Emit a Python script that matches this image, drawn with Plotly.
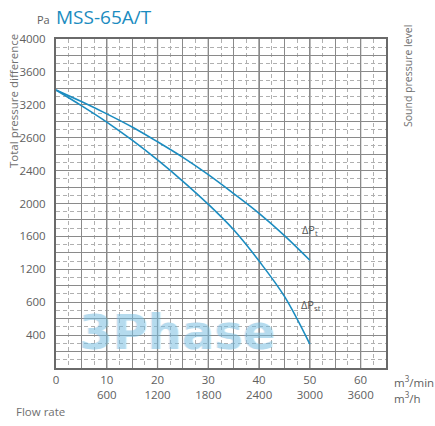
import plotly.graph_objects as go

# Fan performance curves: MSS-65A/T
flow_m3min = [0, 5, 10, 15, 20, 25, 30, 35, 40, 45, 50]
dp_total = [3380, 3240, 3090, 2930, 2750, 2560, 2350, 2120, 1880, 1610, 1310]
dp_static = [3380, 3190, 2990, 2770, 2530, 2270, 1990, 1680, 1300, 870, 290]

x_ticks = [0, 5, 10, 15, 20, 25, 30, 35, 40, 45, 50, 55, 60, 65]
x_text = ["0", "", "10<br>600", "", "20<br>1200", "", "30<br>1800", "",
          "40<br>2400", "", "50<br>3000", "", "60<br>3600", ""]
y_ticks = list(range(0, 4001, 200))
y_labels = {400: "400", 800: "600", 1200: "1200", 1600: "1600", 2000: "2000",
            2400: "2400", 2800: "2600", 3200: "3200", 3600: "3600", 4000: "4000"}
y_text = [y_labels.get(v, "") for v in y_ticks]

BLUE = "#1b8cc0"
GRAY = "#606060"
FONT = "Open Sans"
WM = "rgba(120,190,225,0.42)"

fig = go.Figure()
fig.add_trace(go.Scatter(x=flow_m3min, y=dp_total, mode="lines",
                         line=dict(color=BLUE, width=1.6, shape="spline"),
                         hoverinfo="skip"))
fig.add_trace(go.Scatter(x=flow_m3min, y=dp_static, mode="lines",
                         line=dict(color=BLUE, width=1.6, shape="spline"),
                         hoverinfo="skip"))

fig.update_layout(
    width=435, height=426,
    margin=dict(l=56, r=49, t=39, b=58),
    paper_bgcolor="white", plot_bgcolor="white",
    showlegend=False,
    font=dict(family=FONT, color=GRAY, size=11),
    xaxis=dict(range=[0, 65], tickmode="array", tickvals=x_ticks, ticktext=x_text,
               showgrid=True, gridcolor="#8a8a8a", gridwidth=1,
               showline=True, linecolor="#6a6a6a", linewidth=2, mirror=True,
               ticks="", zeroline=False, tickfont=dict(size=11.5, color=GRAY),
               minor=dict(tickvals=[v + 2.5 for v in x_ticks[:-1]], showgrid=True,
                          gridcolor="#b0b0b0", griddash="4px,3px", gridwidth=1)),
    yaxis=dict(range=[0, 4000], tickmode="array", tickvals=y_ticks, ticktext=y_text,
               showgrid=True, gridcolor="#8a8a8a", gridwidth=1,
               showline=True, linecolor="#6a6a6a", linewidth=2, mirror=True,
               ticks="", zeroline=False, ticklabelstandoff=6,
               tickfont=dict(size=11.5, color=GRAY),
               minor=dict(tickvals=[v + 100 for v in y_ticks[:-1]], showgrid=True,
                          gridcolor="#b0b0b0", griddash="4px,3px", gridwidth=1)),
)

# darker verticals every 10 m3/min
for xv in [10, 20, 30, 40, 50, 60]:
    fig.add_shape(type="line", xref="x", yref="paper", x0=xv, x1=xv, y0=0, y1=1,
                  line=dict(color="#666666", width=1.2), layer="below")

annots = [
    dict(text="3Phase", x=23.8, y=440, xref="x", yref="y", showarrow=False,
         font=dict(family="DejaVu Sans", size=48, color=WM, weight="bold",
                   shadow="1px 0 0 rgba(120,190,225,0.35), -1px 0 0 rgba(120,190,225,0.35)"),
         xanchor="center", yanchor="middle"),
    dict(text="ΔP<sub>t</sub>", x=50, y=1680, xref="x", yref="y", showarrow=False,
         font=dict(size=11, color="#555555", family=FONT), xanchor="center"),
    dict(text="ΔP<sub>st</sub>", x=50.3, y=770, xref="x", yref="y", showarrow=False,
         font=dict(size=11, color="#555555", family=FONT), xanchor="center"),
]


# Page-level labels placed in pixel-like paper coordinates
def px(xp, yp):
    return (xp - 56) / 330, (368 - yp) / 329


labels = [
    ("Pa", 43, 19, 11, GRAY, 0, "center"),
    ("MSS-65A/T", 104, 17, 19, BLUE, 0, "center"),
    ("Total pressure difference", 13, 101, 11.5, "#707070", -90, "center"),
    ("Sound pressure level", 408, 76, 10.5, "#707070", -90, "center"),
    ("m<sup>3</sup>/min", 392, 381, 11.5, GRAY, 0, "left"),
    ("m<sup>3</sup>/h", 392, 397, 11.5, GRAY, 0, "left"),
    ("Flow rate", 14, 411, 11.5, "#707070", 0, "left"),
]
for text, xp, yp, size, color, ang, anchor in labels:
    xx, yy = px(xp, yp)
    annots.append(dict(text=text, x=xx, y=yy, xref="paper", yref="paper",
                       showarrow=False, textangle=ang, xanchor=anchor, yanchor="middle",
                       font=dict(size=size, color=color, family=FONT)))
fig.update_layout(annotations=annots)

fig.write_html("out.html")
